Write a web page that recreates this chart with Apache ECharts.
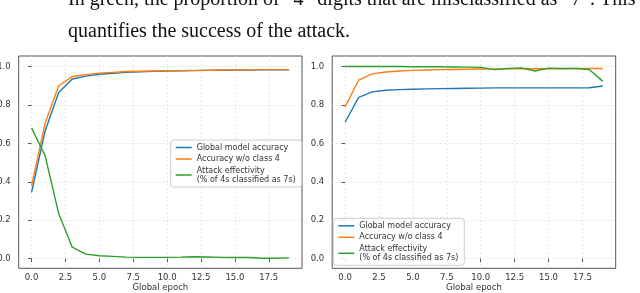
<!DOCTYPE html>
<html><head><meta charset="utf-8">
<script src="https://cdn.jsdelivr.net/npm/echarts@6/dist/echarts.min.js"></script>
<style>html,body{margin:0;padding:0;background:#fff;overflow:hidden}#c{width:640px;height:293px}</style>
</head><body><div id="c"></div>
<script>
const epochs = [0,1,2,3,4,5,6,7,8,9,10,11,12,13,14,15,16,17,18,19];
const leftGlobal = [0.345,0.665,0.865,0.935,0.95,0.96,0.965,0.97,0.973,0.975,0.977,0.978,0.979,0.98,0.981,0.982,0.982,0.983,0.983,0.983];
const leftNoClass4 = [0.38,0.705,0.9,0.948,0.958,0.966,0.97,0.974,0.976,0.977,0.978,0.979,0.98,0.981,0.982,0.983,0.983,0.984,0.984,0.984];
const leftAttack = [0.68,0.535,0.235,0.06,0.024,0.015,0.012,0.008,0.007,0.007,0.007,0.008,0.01,0.009,0.007,0.006,0.006,0.002,0.002,0.004];
const rightGlobal = [0.71,0.84,0.868,0.877,0.88,0.882,0.884,0.885,0.886,0.887,0.888,0.889,0.889,0.889,0.889,0.889,0.889,0.889,0.89,0.899];
const rightNoClass4 = [0.79,0.93,0.962,0.972,0.977,0.98,0.982,0.984,0.985,0.986,0.987,0.988,0.988,0.989,0.989,0.989,0.989,0.99,0.99,0.99];
const rightAttack = [1.0,1.0,1.0,1.0,1.0,0.999,0.999,0.999,0.998,0.997,0.996,0.984,0.99,0.993,0.977,0.992,0.99,0.99,0.985,0.923];
const xTicks = [0,2.5,5,7.5,10,12.5,15,17.5];
const yTicks = [0,0.2,0.4,0.6,0.8,1.0];
const seriesNames = ['Global model accuracy','Accuracy w/o class 4','Attack effectivity\n(% of 4s classified as 7s)'];
const xLabel = 'Global epoch';
const textLine1 = 'In green, the proportion of \u201c4\u201d digits that are misclassified as \u201c7\u201d. This';
const textLine2 = 'quantifies the success of the attack.';

const colors = ['#1f77b4','#ff7f0e','#2ca02c'];
const font = 'DejaVu Sans';
const pair = arr => epochs.map((e,i)=>[e,arr[i]]);

function xAxis(gi){
  return {type:'value', gridIndex:gi, min:-0.95, max:19.95,
    name:xLabel, nameLocation:'middle', nameGap:15, nameMoveOverlap:false,
    nameTextStyle:{fontFamily:font,fontSize:8.5,color:'#333'},
    axisLine:{show:false},
    axisTick:{show:true,length:3.5,customValues:xTicks,lineStyle:{color:'#555'}},
    axisLabel:{customValues:xTicks,margin:5,fontFamily:font,fontSize:8.5,color:'#333',formatter:v=>v.toFixed(1)},
    splitLine:{show:true,lineStyle:{color:'#e3e3e3',type:[2,2],width:0.8}}};
}
function yAxis(gi){
  return {type:'value', gridIndex:gi, min:-0.05, max:1.055,
    axisLine:{show:false},
    axisTick:{show:true,length:3.5,customValues:yTicks,lineStyle:{color:'#555'}},
    axisLabel:{customValues:yTicks,margin:8,fontFamily:font,fontSize:8.5,color:'#333',formatter:v=>v.toFixed(1)},
    splitLine:{show:true,lineStyle:{color:'#e3e3e3',type:[2,2],width:0.8}}};
}
function line(name,data,ci,gi){
  return {type:'line',name:name,xAxisIndex:gi,yAxisIndex:gi,data:pair(data),symbol:'none',
    lineStyle:{color:colors[ci],width:1.4},itemStyle:{color:colors[ci]},animation:false,z:3+ci};
}
function legend(left,top){
  return {orient:'vertical',left:left,top:top,data:seriesNames,icon:'rect',itemWidth:16,itemHeight:1.5,itemGap:2.5,
    padding:[3,6,3,5],backgroundColor:'rgba(255,255,255,0.85)',borderColor:'#ccc',borderWidth:1,borderRadius:3,
    textStyle:{fontFamily:font,fontSize:8,color:'#333',lineHeight:9},selectedMode:false};
}

const chart = echarts.init(document.getElementById('c'),null,{renderer:'canvas'});
chart.setOption({
  animation:false,
  backgroundColor:'#fff',
  grid:[
    {left:18.7,top:56,width:283.3,height:212.3,containLabel:false,outerBoundsMode:'none',show:true,borderColor:'#555',borderWidth:1,backgroundColor:'transparent'},
    {left:332.2,top:56,width:283.5,height:212.3,containLabel:false,outerBoundsMode:'none',show:true,borderColor:'#555',borderWidth:1,backgroundColor:'transparent'}
  ],
  xAxis:[xAxis(0),xAxis(1)],
  yAxis:[yAxis(0),yAxis(1)],
  legend:[legend(170.7,140),legend(333.3,218.3)],
  series:[
    line(seriesNames[0],leftGlobal,0,0),
    line(seriesNames[1],leftNoClass4,1,0),
    line(seriesNames[2],leftAttack,2,0),
    line(seriesNames[0],rightGlobal,0,1),
    line(seriesNames[1],rightNoClass4,1,1),
    line(seriesNames[2],rightAttack,2,1)
  ],
  graphic:[
    {type:'text',left:42,top:-10,style:{text:'\u2022',font:'20px "Liberation Serif"',fill:'#111'}},
    {type:'text',left:68,top:-10,style:{text:textLine1,font:'20px "Liberation Serif"',fill:'#111'}},
    {type:'text',left:68,top:22,style:{text:textLine2,font:'20px "Liberation Serif"',fill:'#111'}}
  ]
});
</script></body></html>
